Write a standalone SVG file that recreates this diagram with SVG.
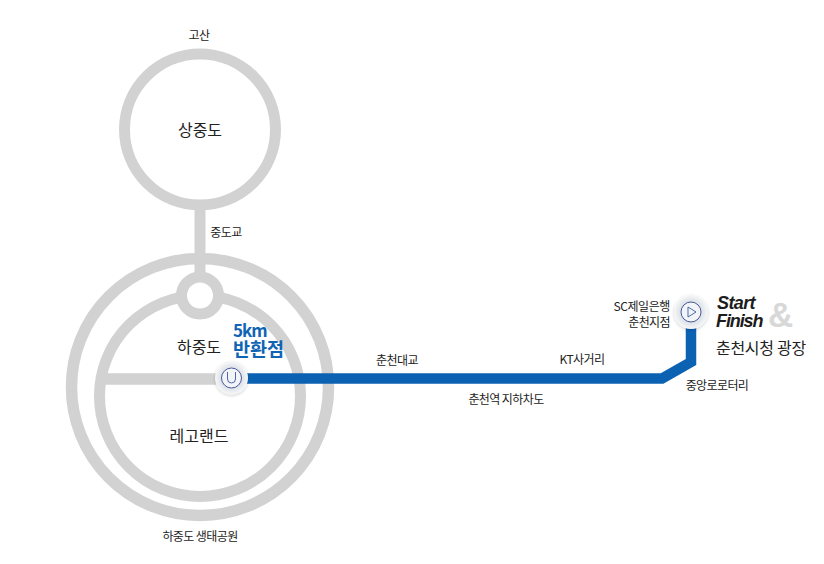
<svg xmlns="http://www.w3.org/2000/svg" width="824" height="564" viewBox="0 0 824 564">
<defs>
<radialGradient id="halo"><stop offset="0.65" stop-color="#dfe4e9"/><stop offset="1" stop-color="#f6f7f8"/></radialGradient>
<filter id="sh" x="-30%" y="-30%" width="160%" height="160%"><feDropShadow dx="0" dy="1" stdDeviation="1.5" flood-color="#000" flood-opacity="0.2"/></filter>
</defs>
<style>
text{font-family:"Noto Sans CJK KR","Noto Sans",sans-serif;fill:#222}
.s{font-size:12px;letter-spacing:-0.6px}
.m{font-size:16px}
.g{fill:none;stroke:#d2d2d2}
.e{font-family:"Liberation Sans",sans-serif;font-weight:700;font-style:italic;font-size:18px;fill:#1c1c1c}
.b{font-weight:700;fill:#0f64b4}
</style>
<rect width="824" height="564" fill="#fff"/>
<g id="node-sangjungdo">
<circle class="g" cx="200" cy="129.5" r="75.5" stroke-width="11"/>
<text class="m" x="200" y="136" text-anchor="middle">상중도</text>
<text class="s" x="199" y="40" text-anchor="middle">고산</text>
</g>
<g id="node-hajungdo">
<circle class="g" cx="200" cy="387" r="128.5" stroke-width="11.5"/>
<circle class="g" cx="200" cy="396" r="100.5" stroke-width="11"/>
<circle cx="200" cy="295.5" r="18.5" fill="#fff" stroke="#d2d2d2" stroke-width="11"/>
<text class="m" x="199" y="353" text-anchor="middle">하중도</text>
<text class="m" x="199" y="442" text-anchor="middle">레고랜드</text>
<text class="s" x="200" y="541" text-anchor="middle">하중도 생태공원</text>
</g>
<g id="connectors">
<path class="g" stroke-width="11" d="M200 205V277"/>
<path class="g" stroke-width="11.5" d="M100 379H225"/>
<path fill="none" stroke="#0b62b3" stroke-width="10.5" d="M240 378.5H662L691 362V320"/>
</g>
<g id="node-bridge"><text class="s" x="226" y="237" text-anchor="middle">중도교</text></g>
<g id="node-turn">
<text class="b" x="233" y="337" font-size="17" letter-spacing="-1">5km</text>
<text class="b" x="233" y="356" font-size="18.5">반환점</text>
<circle cx="231.5" cy="378" r="16.5" fill="url(#halo)" filter="url(#sh)"/>
<circle cx="231.5" cy="378" r="10" fill="#f2f4f7" stroke="#4a5a9a" stroke-width="1"/>
<path d="M227.5 372V379a4 4 0 0 0 8 0V372" fill="none" stroke="#4a6aaa" stroke-width="1"/>
</g>
<g id="node-labels">
<text class="s" x="397" y="365" text-anchor="middle">춘천대교</text>
<text class="s" x="582" y="364" text-anchor="middle">KT사거리</text>
<text class="s" x="506" y="404" text-anchor="middle">춘천역 지하차도</text>
<text class="s" x="717" y="390" text-anchor="middle">중앙로로터리</text>
</g>
<g id="node-start">
<circle cx="691" cy="312" r="17" fill="url(#halo)" filter="url(#sh)"/>
<circle cx="691" cy="312" r="10" fill="#f2f4f7" stroke="#4a5a9a" stroke-width="1"/>
<path d="M688 307L696 312L688 317Z" fill="none" stroke="#4a6aaa" stroke-width="1"/>
<text class="s" x="670" y="311" text-anchor="end" style="letter-spacing:-0.4px">SC제일은행</text>
<text class="s" x="670" y="327" text-anchor="end">춘천지점</text>
<text class="e" x="717" y="309" letter-spacing="-0.6">Start</text>
<text class="e" x="716" y="327" letter-spacing="-1.1">Finish</text>
<text x="768" y="327" font-size="35" font-weight="700" style="font-family:'Liberation Sans',sans-serif;fill:#d8d8d8">&amp;</text>
<text class="m" x="716" y="354" style="letter-spacing:-0.3px">춘천시청 광장</text>
</g>
</svg>
